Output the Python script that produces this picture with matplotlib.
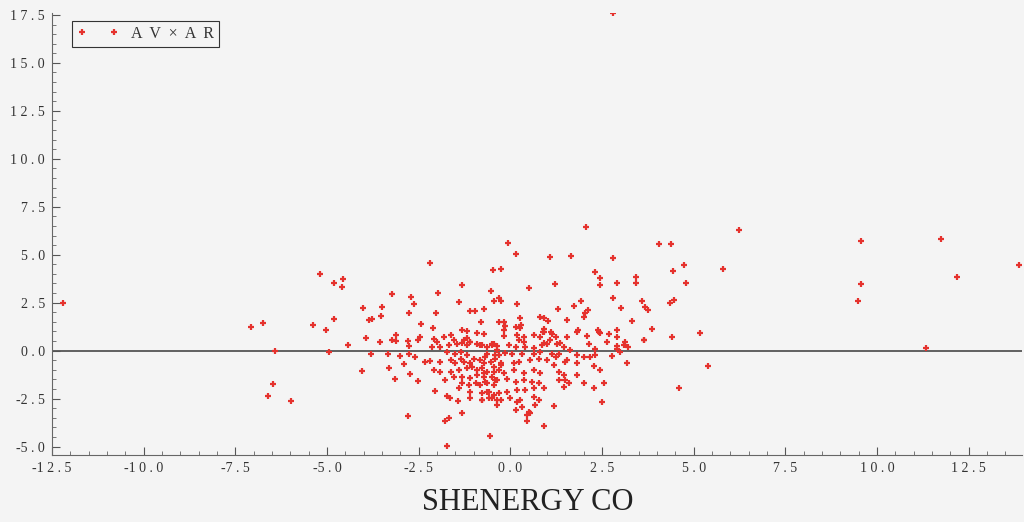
import matplotlib
matplotlib.use("Agg")
import matplotlib.pyplot as plt
from matplotlib.ticker import MultipleLocator, FuncFormatter

# points: (AV, AR)
av = [-12.2, -7.08, -6.75, -6.43, -6.47, -6.6, -5.99, -5.39, -5.18, 2.8,
      4.04, 4.39, 4.72, 4.43, 4.79, 6.24, 5.79, 3.59, 3.68, 3.74, 4.45, 4.36, 3.86, 3.63, 4.41,
      5.16, 5.39, 4.6, 9.56, 9.55, 9.47, 11.33, 11.74, 12.19, 13.88,
      -2.19, -4.8, -4.56, -4.59, -1.32, -3.22, -2.7, -1.97, -2.63, -1.41, -4.02, -3.5, -2.77,
      -2.04, -1.11, -0.96, -3.77, -3.86, -3.52, -4.81, -5.02, -2.43, -2.11, -3.95, -3.13, -3.22,
      -3.12, -2.8, -2.47, -2.53, -2.09, -3.56, -4.42, -1.82, -1.63, -1.32, -1.19, -0.91, -1.54,
      -1.19, -1.09, -1.32, -2.0,
      2.07, -0.07, 0.16, 1.08, 1.65, 2.81, -0.47, -0.27, 2.32, 2.45, 2.43, 2.92, 3.43, 3.42,
      1.21, 0.5, -0.54, -0.32, -0.46, -0.25, 2.81, 1.93, 0.18, 1.73, 2.12, 2.04, 2.02, -0.73,
      1.3, 3.02, 0.8, 0.91, 1.02, 0.27, 1.54, 3.32, -0.79, -0.32, -0.18, -0.14, -0.18, 0.29,
      0.25, 0.14, 0.91, 0.89, 1.11, 1.84, 2.38, 2.43, 2.91, 0.23, 0.36, 0.82, 1.09, 0.91, 1.36,
      2.91, -0.5,
      -2.77, -2.15, -4.95, -3.79, -3.34, -3.0, -2.77, -2.59, -4.06, -3.32, -2.89, -2.32, -2.2,
      -3.15, -2.74, -2.52, -2.09, -1.91, -2.06, -1.79, -1.72, -1.66, -1.43, -2.79, -1.32, -1.79,
      -1.68, -1.72, -0.56,
      -1.91, -1.68, -1.45, -1.27, -1.18, -1.09, -0.91, -0.82, -0.64, -0.5, -0.36, -0.32, -1.73,
      -1.5, -1.36, -1.18, -1.91, -1.63, -1.5, -1.36, -1.27, -1.09, -1.0, -0.82, -0.68, -0.41,
      -0.27, -1.63, -1.41, -1.18, -1.04, -0.91, -0.77, -0.64, -0.45, -0.32, -1.54, -1.32, -1.09,
      -0.91, -0.73, -0.5, -0.36, -1.32, -1.14, -0.95, -0.82, -0.64, -0.45, -1.41, -1.09, -0.77,
      -0.59, -0.45, -0.36, -1.09, -0.77, -0.59,
      -0.73, -0.18, 0.18, 0.36, 0.64, 0.91, 1.14, 1.23, 1.54, 1.82, 2.09, 2.41, 2.68, 2.63,
      2.91, 3.13, 3.09, 3.22, 3.63,
      -0.77, -0.45, -0.36, -0.05, 0.14, 0.41, 0.64, 0.86, 1.0, 1.27, 1.45, 1.63, 2.13, 2.32,
      2.91, 3.0,
      -0.64, -0.41, -0.14, 0.05, 0.32, 0.64, 0.82, 1.14, 1.32, 1.54, 1.82, 2.0, 2.18, 2.32,
      2.77, 3.18, -0.73, -0.54, -0.27, 0.09, 0.23, 0.54, 0.77, 1.0, 1.18, 1.23, 1.5, 1.82, 2.27,
      2.45, -0.73, -0.45, -0.18, 0.09, 0.36, 0.64, 0.82, 1.32, 1.45, 1.82,
      -0.68, -0.41, -0.09, 0.14, 0.36, 0.59, 0.77, 1.32, 1.5, 1.59, 2.0, 2.54,
      -0.64, -0.32, -0.09, 0.18, 0.41, 0.64, 0.91, 1.45, 2.27,
      -0.77, -0.5, -0.27, 0.0, 0.27, 0.64, 0.77, -0.36, 0.18, 0.68, 1.18, 2.5,
      0.14, 0.32, 0.5, 0.45, 0.54, 0.45, 0.91]
ar = [2.49, 1.22, 1.43, -0.03, -1.76, -2.35, -2.65, 1.33, 3.97, 17.6,
      5.58, 5.55, 4.45, 4.16, 3.53, 6.31, 4.28, 2.6, 2.25, 2.1, 2.63, 2.46, 1.12, 0.58, 0.72,
      0.9, -0.79, -1.97, 5.72, 3.45, 2.61, 0.15, 5.84, 3.86, 4.45,
      4.56, 3.52, 3.72, 3.34, 3.43, 2.94, 2.82, 2.98, 2.41, 2.51, 2.21, 2.25, 1.94,
      1.95, 2.07, 2.06, 1.64, 1.59, 1.83, 1.64, 1.07, 1.4, 1.17, 0.65, 0.79, 0.58,
      0.51, 0.49, 0.69, 0.58, 0.6, 0.44, 0.3, 0.72, 0.81, 1.07, 1.03, 0.9, 0.55,
      0.64, 0.46, 0.38, 0.43,
      6.42, 5.63, 5.03, 4.87, 4.94, 4.82, 4.19, 4.28, 4.12, 3.79, 3.41, 3.55, 3.84, 3.55,
      3.45, 3.29, 3.11, 2.75, 2.59, 2.58, 2.75, 2.58, 2.41, 2.33, 2.11, 1.97, 1.73, 2.18,
      2.15, 2.2, 1.73, 1.71, 1.54, 1.71, 1.62, 1.55, 1.47, 1.5, 1.5, 1.28, 1.1, 1.34,
      1.16, 1.24, 1.12, 0.95, 0.95, 1.1, 1.07, 0.9, 1.1, 0.55, 0.46, 0.72, 0.55, 0.38, 0.38,
      0.23, 0.29,
      0.23, 0.2, -0.06, -0.2, -0.2, -0.29, -0.2, -0.32, -1.07, -0.93, -0.72, -0.58, -0.53,
      -1.5, -1.24, -1.59, -1.02, -1.1, -2.11, -1.54, -2.37, -2.49, -2.63, -3.4, -3.24, -3.67,
      -3.53, -4.96, -4.45,
      0.2, 0.29, 0.37, 0.55, 0.29, 0.46, 0.37, 0.29, 0.2, 0.37, 0.03, -0.23, -0.06,
      -0.15, -0.06, -0.23, -0.58, -0.49, -0.67, -0.41, -0.58, -0.67, -0.41, -0.49, -0.32, -0.41,
      -0.67, -1.1, -1.02, -0.93, -0.84, -1.02, -0.93, -1.1, -0.84, -1.02, -1.36, -1.36, -1.45,
      -1.28, -1.36, -1.36, -1.54, -1.71, -1.8, -1.71, -1.8, -1.71, -1.8, -1.97, -2.14, -2.23,
      -2.14, -2.32, -2.58, -2.49, -2.58, -2.49,
      0.86, 0.76, 0.81, 0.72, 0.81, 0.98, 0.89, 0.69, 0.69, 0.98, 0.76, 0.98, 0.86, 0.46,
      0.72, 0.46, 0.29, 0.2, 0.55,
      0.29, 0.34, 0.23, 0.29, 0.2, 0.2, 0.16, 0.29, 0.37, 0.37, 0.2, 0.03, 0.37, 0.11,
      0.11, -0.06,
      -0.15, -0.23, -0.11, -0.15, -0.15, -0.15, -0.06, -0.15, -0.18, -0.49, -0.23, -0.32, -0.32, -0.23,
      -0.29, -0.67, -0.67, -0.58, -0.76, -0.67, -0.58, -0.49, -0.41, -0.49, -0.76, -0.32, -0.58, -0.67, -0.81,
      -1.02, -1.19, -1.1, -1.19, -1.02, -1.15, -1.02, -1.19, -1.1, -1.28, -1.28,
      -1.62, -1.54, -1.5, -1.62, -1.54, -1.62, -1.71, -1.54, -1.54, -1.71, -1.71, -1.71,
      -2.14, -2.23, -2.14, -2.06, -2.06, -1.97, -1.97, -1.88, -1.97,
      -2.58, -2.49, -2.58, -2.49, -2.58, -2.4, -2.58, -2.84, -2.66, -2.84, -2.89, -2.66,
      -3.1, -2.93, -3.19, -3.36, -3.27, -3.66, -3.92]

x_label = "SHENERGY CO"
legend_label = "A  V  \u00d7  A  R"

plt.rcParams['font.family'] = ['Liberation Serif', 'DejaVu Serif']

bg = '#f4f4f4'
fig = plt.figure(figsize=(10.24, 5.22), dpi=100, facecolor=bg)
ax = fig.add_axes([52/1024, 1 - 455/522, 970/1024, 442/522], facecolor=bg)

ax.axhline(0, color='#555555', lw=1.3, zorder=1)
ax.plot(av, ar, linestyle='none', marker='+', color='#e5322d',
        markersize=5, markeredgewidth=1.6, label=legend_label, zorder=3)

ax.set_xlim(-12.5, 13.95)
ax.set_ylim(-5.44, 17.6)

ax.xaxis.set_major_locator(MultipleLocator(2.5))
ax.xaxis.set_minor_locator(MultipleLocator(0.5))
ax.yaxis.set_major_locator(MultipleLocator(2.5))
ax.yaxis.set_minor_locator(MultipleLocator(0.5))


def spaced(v, pos):
    s = "%.1f" % v
    if s == "-0.0":
        s = "0.0"
    if s.startswith('-'):
        return '-' + ' '.join(s[1:])
    return ' '.join(s)


ax.xaxis.set_major_formatter(FuncFormatter(spaced))
ax.yaxis.set_major_formatter(FuncFormatter(spaced))

ax.tick_params(which='major', direction='in', length=6, width=0.8, color='#555555',
               labelsize=10, labelcolor='#333333', pad=5)
ax.tick_params(which='minor', direction='in', length=3, width=0.7, color='#777777')

for side in ['top', 'right']:
    ax.spines[side].set_visible(False)
for side in ['left', 'bottom']:
    ax.spines[side].set_color('#666666')
    ax.spines[side].set_linewidth(0.8)

ax.set_xlabel(x_label, fontsize=22, color='#222222')
ax.xaxis.set_label_coords(0.49, -0.075, transform=ax.transAxes)

leg = ax.legend(loc='upper left', bbox_to_anchor=(0.021, 0.982), borderaxespad=0,
                numpoints=2, handlelength=2.6, fontsize=11.5, fancybox=False,
                framealpha=1, facecolor=bg, edgecolor='#333333',
                borderpad=0.3, handletextpad=0.8)
leg.get_frame().set_linewidth(0.8)
for t in leg.get_texts():
    t.set_color('#333333')

fig.savefig('out.png', dpi=100, facecolor=bg)
